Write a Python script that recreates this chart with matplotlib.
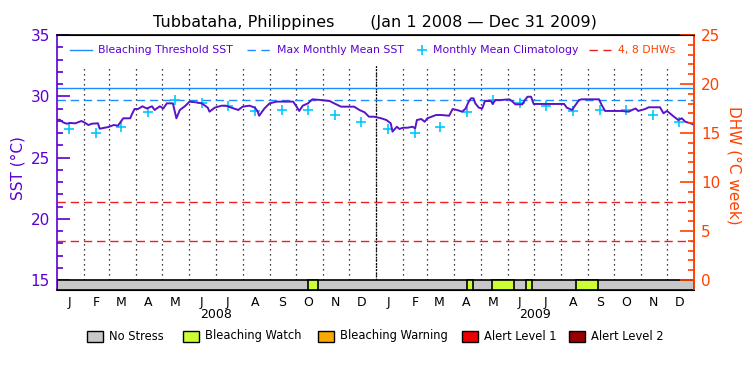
import numpy as np
import pandas as pd
import matplotlib
matplotlib.use('Agg')
import matplotlib.pyplot as plt
from matplotlib.lines import Line2D
from matplotlib.patches import Rectangle

plt.rcParams['font.family'] = ['DejaVu Sans']

# 資料: SST 日序 (自 2008-01-01 起算) 與數值
sst_days = [0, 3, 7, 11, 15, 21, 28, 32, 36, 40, 47, 49, 55, 59, 65, 70, 76, 84, 86, 89,
            93, 98, 103, 109, 112, 118, 122, 126, 133, 137, 141, 147, 152, 160, 166, 173, 175,
            181, 189, 194, 200, 208, 213, 221, 227, 230, 232, 238, 244, 252, 271, 275, 278,
            282, 288, 293, 303, 313, 318, 326, 341, 347, 353, 358, 364, 372, 378, 383, 385,
            390, 393, 397, 402, 408, 411, 413, 418, 422, 425, 435, 441, 450, 454, 459, 465,
            469, 472, 475, 478, 480, 484, 488, 491, 498, 500, 503, 509, 519, 522, 526, 534,
            537, 540, 544, 547, 582, 585, 591, 595, 599, 602, 622, 625, 629, 648, 656, 660,
            664, 667, 675, 679, 692, 696, 700, 708, 713, 717, 721, 727, 730]
sst_vals = [28.06, 28.09, 27.87, 27.76, 27.82, 27.79, 27.98, 27.84, 27.65, 27.76, 27.79,
            27.35, 27.43, 27.49, 27.65, 27.60, 28.20, 28.20, 28.53, 28.96, 28.96, 29.18,
            29.00, 29.18, 28.88, 29.18, 29.00, 29.42, 29.42, 28.20, 28.88, 29.20, 29.56,
            29.50, 29.42, 29.07, 28.74, 29.07, 29.23, 29.23, 29.07, 28.88, 29.15, 29.23,
            29.07, 28.80, 28.41, 29.00, 29.42, 29.56, 29.56, 29.15, 28.80, 29.23, 29.42,
            29.75, 29.69, 29.61, 29.42, 29.15, 29.15, 28.88, 28.69, 28.33, 28.33, 28.20,
            28.06, 27.79, 27.11, 27.51, 27.33, 27.43, 27.43, 27.51, 27.38, 28.06, 28.14,
            27.92, 28.20, 28.47, 28.47, 28.41, 28.96, 28.88, 28.74, 29.00, 29.50, 29.83,
            29.83, 29.42, 29.07, 29.00, 29.61, 29.61, 29.37, 29.69, 29.69, 29.75, 29.61,
            29.34, 29.34, 29.69, 29.96, 29.96, 29.37, 29.37, 29.07, 28.88, 29.29, 29.69,
            29.75, 29.75, 29.29, 28.80, 28.80, 28.74, 28.88, 29.00, 28.80, 28.96, 29.10,
            29.10, 28.61, 28.80, 28.33, 28.06, 28.20, 27.92, 27.79, 27.71]

# 月平均氣候值
clim = [27.30, 27.02, 27.51, 28.69, 29.69, 29.42, 29.23, 28.82, 28.88, 28.88, 28.47, 27.87]
mmm = 29.69
threshold = 30.69
dhw_levels = [4, 8]

# 白化觀察期間 (Bleaching Watch)
watch_start = ['2008-10-15', '2009-04-15', '2009-05-14', '2009-06-22', '2009-08-19']
watch_end = ['2008-10-27', '2009-04-22', '2009-06-08', '2009-06-29', '2009-09-13']

month_letters = list('JFMAMJJASOND')
years = ['2008', '2009']

stress_names = ['No Stress', 'Bleaching Watch', 'Bleaching Warning', 'Alert Level 1', 'Alert Level 2']
stress_colors = ['#c8c8c8', '#ccff33', '#f9a800', '#ee0000', '#960000']

PURPLE = '#5a00d2'
LINE = '#5a14c8'
BLUE = '#1e8cff'
CYAN = '#00c8ff'
RED = '#f01e1e'
ORANGE = '#ff4000'

t0 = pd.Timestamp('2008-01-01')
t1 = pd.Timestamp('2010-01-01')
dates = t0 + pd.to_timedelta(sst_days, unit='D')
month_starts = pd.date_range('2008-01-01', '2009-12-01', freq='MS')
mid_month = month_starts + pd.Timedelta(days=14)

ymin = 14.184
fig = plt.figure(figsize=(7.5, 3.75), dpi=100)
ax = fig.add_axes([57 / 750, 1 - 290 / 375, 637 / 750, 255 / 375])
ax.set_xlim(t0, t1)
ax.set_ylim(ymin, 35)

# 月份虛線
ax.vlines(month_starts[1:], 15, 32.55, colors='k', linestyles=(0, (1, 3)), lw=0.9, zorder=1)
ax.vlines([pd.Timestamp('2009-01-01')], 15, 32.55, colors='k', linestyles=(0, (1.5, 1)), lw=0.9, zorder=1)

ax.axhline(threshold, color=BLUE, lw=1.0, zorder=2)
ax.axhline(mmm, color=BLUE, lw=1.0, dashes=(6, 3.5), zorder=2)
for d in dhw_levels:
    ax.axhline(15 + d / 1.25, color=RED, lw=1.0, dashes=(6, 3.5), zorder=2)

ax.plot(list(mid_month), clim * 2, '+', color=CYAN, ms=7.5, mew=1.2, zorder=3)
ax.plot(dates, sst_vals, color=LINE, lw=1.4, zorder=4)

# 壓力等級色條
ax.add_patch(Rectangle((matplotlib.dates.date2num(t0), ymin),
                       matplotlib.dates.date2num(t1) - matplotlib.dates.date2num(t0), 15 - ymin,
                       facecolor=stress_colors[0], edgecolor='k', lw=1.2, zorder=5))
for s, e in zip(watch_start, watch_end):
    xs = matplotlib.dates.date2num(pd.Timestamp(s))
    xe = matplotlib.dates.date2num(pd.Timestamp(e))
    ax.add_patch(Rectangle((xs, ymin), xe - xs, 15 - ymin,
                           facecolor=stress_colors[1], edgecolor='k', lw=1.2, zorder=6))

# 座標軸
ax.set_yticks([15, 20, 25, 30, 35])
ax.set_yticks(np.arange(15, 36, 1), minor=True)
ax.tick_params(axis='y', which='major', direction='in', length=9.5, width=1.2,
               colors=PURPLE, labelsize=11, pad=5)
ax.tick_params(axis='y', which='minor', direction='in', length=4.5, width=1.2, colors=PURPLE)
ax.set_xticks(list(mid_month))
ax.set_xticklabels(month_letters * 2)
ax.tick_params(axis='x', length=0, labelsize=9, pad=4)
ax.set_ylabel('SST (°C)', color=PURPLE, fontsize=11, va='center', ha='center')
ax.yaxis.set_label_coords(-0.061, 0.48)
for side in ['top', 'bottom']:
    ax.spines[side].set_linewidth(1.2)
ax.spines['left'].set_color(PURPLE)
ax.spines['left'].set_linewidth(1.2)
ax.spines['right'].set_color(ORANGE)
ax.spines['right'].set_linewidth(1.2)

ax2 = ax.twinx()
ax2.set_ylim((ymin - 15) * 1.25, 25)
ax2.set_yticks([0, 5, 10, 15, 20, 25])
ax2.set_yticks(np.arange(0, 26, 1), minor=True)
ax2.tick_params(axis='y', which='major', direction='in', length=10, width=1.2,
                colors=ORANGE, labelsize=11, pad=5)
ax2.tick_params(axis='y', which='minor', direction='in', length=4.5, width=1.2, colors=ORANGE)
ax2.spines['right'].set_color(ORANGE)
ax2.spines['right'].set_linewidth(1.2)
ax2.spines['left'].set_visible(False)
ax2.set_ylabel('DHW (°C week)', color=ORANGE, fontsize=11, rotation=270, va='center', ha='center')
ax2.yaxis.set_label_coords(1.063, 0.49)

for i, y in enumerate(years):
    ax.text(0.25 + 0.5 * i, -0.098, y, transform=ax.transAxes, ha='center', va='center', fontsize=9)

fig.text(0.5, 1 - 22 / 375, 'Tubbataha, Philippines       (Jan 1 2008 \u2014 Dec 31 2009)',
         ha='center', va='center', fontsize=11.5)

# 上方圖例
ly = 1 - 50 / 375
fig.add_artist(Line2D([70 / 750, 92 / 750], [ly, ly], color=BLUE, lw=1.0))
fig.text(98 / 750, ly, 'Bleaching Threshold SST', color=PURPLE, fontsize=7.8, va='center')
fig.add_artist(Line2D([247 / 750, 270 / 750], [ly, ly], color=BLUE, lw=1.0, dashes=(6, 4)))
fig.text(277 / 750, ly, 'Max Monthly Mean SST', color=PURPLE, fontsize=7.8, va='center')
fig.add_artist(Line2D([421.7 / 750], [ly], color=CYAN, marker='+', ms=7, mew=1.2, ls='none'))
fig.text(433 / 750, ly, 'Monthly Mean Climatology', color=PURPLE, fontsize=7.8, va='center')
fig.add_artist(Line2D([589 / 750, 611 / 750], [ly, ly], color=RED, lw=1.0, dashes=(6, 4)))
fig.text(618 / 750, ly, '4, 8 DHWs', color=ORANGE, fontsize=7.8, va='center')

# 下方圖例
box_x = [87, 183, 318, 462, 569]
by = 1 - 336 / 375
for bx, name, col in zip(box_x, stress_names, stress_colors):
    fig.add_artist(Rectangle((bx / 750, by - 5.5 / 375), 16 / 750, 11 / 375,
                             facecolor=col, edgecolor='k', lw=1.0, transform=fig.transFigure))
    fig.text((bx + 22) / 750, by, name, fontsize=8.3, va='center')

plt.savefig('out.png', dpi=100)
plt.close()
